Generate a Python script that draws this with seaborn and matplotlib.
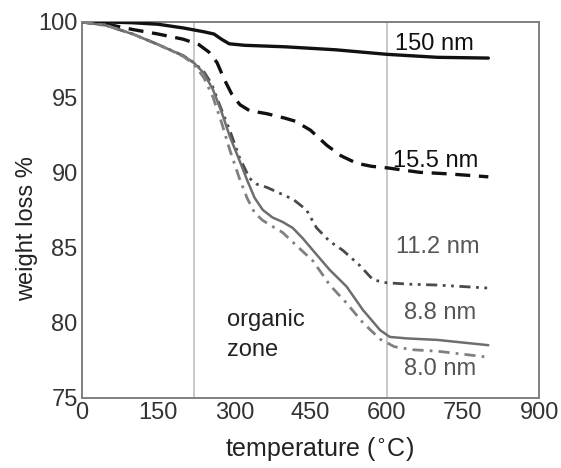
import numpy as np
import pandas as pd
import matplotlib
matplotlib.use("Agg")
import matplotlib.pyplot as plt
from matplotlib.ticker import MultipleLocator
import seaborn as sns

# ---- data ----
t_150 = [0, 50, 100, 150, 200, 240, 260, 275, 290, 320, 400, 500, 600, 700, 800]
w_150 = [100, 100, 99.95, 99.85, 99.6, 99.35, 99.2, 98.85, 98.55, 98.45, 98.35, 98.15, 97.85, 97.65, 97.6]

t_155 = [0, 50, 100, 150, 200, 230, 250, 266, 280, 295, 311, 330, 364, 400, 420, 450, 482, 510, 541, 570, 600, 665, 720, 800]
w_155 = [100, 99.85, 99.5, 99.2, 98.85, 98.5, 98.0, 97.3, 96.2, 95.2, 94.5, 94.1, 93.9, 93.6, 93.4, 92.8, 91.8, 91.1, 90.6, 90.4, 90.3, 90.0, 89.9, 89.7]

t_112 = [0, 50, 100, 150, 200, 220, 240, 255, 272, 291, 310, 330, 345, 364, 390, 416, 442, 462, 488, 514, 547, 573, 600, 650, 700, 800]
w_112 = [100, 99.75, 99.2, 98.5, 97.75, 97.3, 96.7, 95.9, 94.4, 92.8, 91.0, 89.6, 89.2, 89.0, 88.6, 88.2, 87.5, 86.3, 85.4, 84.8, 83.8, 82.85, 82.65, 82.55, 82.5, 82.3]

t_88 = [0, 50, 100, 150, 200, 220, 240, 258, 275, 291, 310, 325, 340, 356, 375, 395, 415, 435, 455, 488, 521, 553, 587, 606, 640, 700, 800]
w_88 = [100, 99.75, 99.2, 98.5, 97.75, 97.3, 96.6, 95.5, 94.0, 92.4, 90.8, 89.5, 88.3, 87.5, 87.0, 86.7, 86.3, 85.6, 84.8, 83.5, 82.4, 80.85, 79.5, 79.05, 78.95, 78.85, 78.5]

t_80 = [0, 50, 100, 150, 200, 220, 240, 258, 275, 291, 310, 325, 340, 356, 375, 395, 420, 455, 488, 521, 553, 587, 615, 650, 700, 800]
w_80 = [100, 99.75, 99.2, 98.5, 97.7, 97.2, 96.3, 95.0, 93.3, 91.5, 89.6, 88.3, 87.3, 86.8, 86.4, 86.0, 85.2, 84.1, 82.5, 81.3, 80.0, 78.9, 78.4, 78.2, 78.1, 77.7]

series_names = ["150 nm", "15.5 nm", "11.2 nm", "8.8 nm", "8.0 nm"]
zone_lines = [220, 600]
x_ticks = [0, 150, 300, 450, 600, 750, 900]
y_ticks = [75, 80, 85, 90, 95, 100]

# ---- styling ----
sns.set_theme(style="white")
plt.rcParams["font.family"] = ["Liberation Sans", "DejaVu Sans"]

fig = plt.figure(figsize=(5.61, 4.68), dpi=100)
ax = fig.add_axes([0.146, 0.150, 0.815, 0.803])

for xv in zone_lines:
    ax.axvline(xv, color="#c4c4c4", lw=1.3, zorder=1)

styles = [
    (t_150, w_150, "#111111", 2.4, "-"),
    (t_155, w_155, "#111111", 2.4, (0, (4.5, 2.6))),
    (t_112, w_112, "#4a4a4a", 2.0, (0, (4.0, 2.0, 1.0, 2.0, 1.0, 2.0))),
    (t_88, w_88, "#6e6e6e", 1.8, "-"),
    (t_80, w_80, "#808080", 2.0, (0, (4.0, 2.2, 1.0, 2.2))),
]
for (tx, wy, col, lw, ls), name in zip(styles, series_names):
    df = pd.DataFrame({"temperature": tx, "weight": wy})
    sns.lineplot(data=df, x="temperature", y="weight", ax=ax, color=col,
                 lw=lw, zorder=3, estimator=None)
    ax.lines[-1].set_linestyle(ls)

# labels
fs = 17
ax.text(616, 98.55, "150 nm", fontsize=fs, color="#111111", va="center", ha="left")
ax.text(612, 90.75, "15.5 nm", fontsize=fs, color="#111111", va="center", ha="left")
ax.text(618, 85.0, "11.2 nm", fontsize=fs, color="#555555", va="center", ha="left")
ax.text(634, 80.65, "8.8 nm", fontsize=fs, color="#555555", va="center", ha="left")
ax.text(634, 76.9, "8.0 nm", fontsize=fs, color="#555555", va="center", ha="left")
ax.text(285, 80.2, "organic", fontsize=fs, color="#222222", va="center", ha="left")
ax.text(285, 78.2, "zone", fontsize=fs, color="#222222", va="center", ha="left")

ax.set_xlim(0, 900)
ax.set_ylim(75, 100)
ax.set_xticks(x_ticks)
ax.set_yticks(y_ticks)
ax.xaxis.set_minor_locator(MultipleLocator(75))
ax.yaxis.set_minor_locator(MultipleLocator(2.5))
ax.tick_params(axis="both", which="major", direction="in", length=3, width=1,
               color="#777777", labelsize=17, labelcolor="#333333", pad=3)
ax.tick_params(axis="both", which="minor", direction="in", length=2, width=0.8,
               color="#999999")
for sp in ax.spines.values():
    sp.set_color("#808080")
    sp.set_linewidth(1.4)

ax.set_xlabel("temperature ($^{\\circ}$C)", fontsize=18, color="#222222")
ax.set_ylabel("weight loss %", fontsize=17, color="#222222")
ax.xaxis.set_label_coords(0.52, -0.10)
ax.yaxis.set_label_coords(-0.097, 0.45)

fig.savefig("out.png", dpi=100)
